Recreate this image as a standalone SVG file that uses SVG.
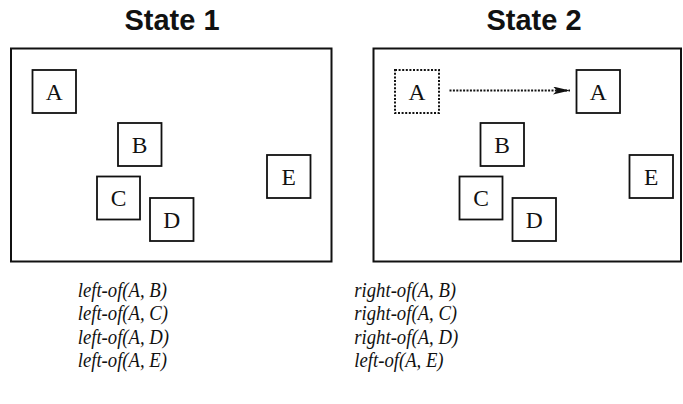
<svg xmlns="http://www.w3.org/2000/svg" width="683" height="404" viewBox="0 0 683 404">
  <style>
    .title { font-weight: bold; font-size: 29px; text-anchor: middle; fill: #111; }
    .frame { fill: #fff; stroke: #111; stroke-width: 2; }
    .box { fill: #fff; stroke: #111; stroke-width: 1.8; }
    .ghost { fill: #fff; stroke: #111; stroke-width: 2; stroke-dasharray: 2 1.6; }
    .lbl { font-size: 23.5px; text-anchor: middle; fill: #111; }
    .fact { font-style: italic; font-size: 22px; fill: #111; }
    .move { fill: none; stroke: #111; stroke-width: 2; stroke-dasharray: 2 1.4; }
  </style>
  <defs>
    <marker id="head" markerWidth="17" markerHeight="8" refX="17" refY="4" orient="auto" markerUnits="userSpaceOnUse">
      <path d="M0,0 L17,4 L0,8 L4,4 Z" fill="#111"/>
    </marker>
  </defs>
  <rect width="683" height="404" fill="#fff"/>

  <!-- Panel titles -->
  <text class="title" font-family="Liberation Sans" x="172" y="29.5">State 1</text>
  <text class="title" font-family="Liberation Sans" x="534" y="29.5">State 2</text>

  <!-- State 1 -->
  <g id="state1">
    <rect class="frame" x="11" y="48.5" width="320.5" height="213"/>
    <g id="s1-A"><rect class="box" x="32.5" y="70" width="43.5" height="43"/><text class="lbl" font-family="Liberation Serif" x="54.2" y="99.5">A</text></g>
    <g id="s1-B"><rect class="box" x="118" y="123" width="43.5" height="43"/><text class="lbl" font-family="Liberation Serif" x="139.7" y="152.5">B</text></g>
    <g id="s1-C"><rect class="box" x="97" y="176.5" width="43" height="43"/><text class="lbl" font-family="Liberation Serif" x="118.5" y="206">C</text></g>
    <g id="s1-D"><rect class="box" x="150" y="198" width="43.5" height="43"/><text class="lbl" font-family="Liberation Serif" x="171.7" y="227.5">D</text></g>
    <g id="s1-E"><rect class="box" x="267" y="155" width="43.5" height="43"/><text class="lbl" font-family="Liberation Serif" x="288.7" y="184.5">E</text></g>
  </g>

  <!-- State 2 -->
  <g id="state2">
    <rect class="frame" x="373.5" y="48.5" width="307.5" height="213"/>
    <g id="s2-A-old"><rect class="ghost" x="395" y="70" width="44" height="43"/><text class="lbl" font-family="Liberation Serif" x="417" y="99.5">A</text></g>
    <g id="s2-A"><rect class="box" x="576.5" y="70" width="43.5" height="43"/><text class="lbl" font-family="Liberation Serif" x="598.2" y="99.5">A</text></g>
    <g id="s2-B"><rect class="box" x="480.5" y="123" width="43.5" height="43"/><text class="lbl" font-family="Liberation Serif" x="502.2" y="152.5">B</text></g>
    <g id="s2-C"><rect class="box" x="459.5" y="176.5" width="43" height="43"/><text class="lbl" font-family="Liberation Serif" x="481" y="206">C</text></g>
    <g id="s2-D"><rect class="box" x="512.5" y="198" width="43.5" height="43"/><text class="lbl" font-family="Liberation Serif" x="534.2" y="227.5">D</text></g>
    <g id="s2-E"><rect class="box" x="629.5" y="155" width="43.5" height="43"/><text class="lbl" font-family="Liberation Serif" x="651.2" y="184.5">E</text></g>
  </g>

  <!-- Connectors -->
  <g id="connectors">
    <line class="move" x1="449.5" y1="90.5" x2="570" y2="90.5" marker-end="url(#head)"/>
  </g>

  <!-- Relations, State 1 -->
  <g id="facts1" transform="translate(77.7,0) scale(0.85,1)">
    <text class="fact" font-family="Liberation Serif" x="0" y="297">left-of(A, B)</text>
    <text class="fact" font-family="Liberation Serif" x="0" y="320.5">left-of(A, C)</text>
    <text class="fact" font-family="Liberation Serif" x="0" y="343.8">left-of(A, D)</text>
    <text class="fact" font-family="Liberation Serif" x="0" y="367">left-of(A, E)</text>
  </g>

  <!-- Relations, State 2 -->
  <g id="facts2" transform="translate(354.3,0) scale(0.85,1)">
    <text class="fact" font-family="Liberation Serif" x="0" y="297">right-of(A, B)</text>
    <text class="fact" font-family="Liberation Serif" x="0" y="320.5">right-of(A, C)</text>
    <text class="fact" font-family="Liberation Serif" x="0" y="343.8">right-of(A, D)</text>
    <text class="fact" font-family="Liberation Serif" x="0" y="367">left-of(A, E)</text>
  </g>
</svg>
